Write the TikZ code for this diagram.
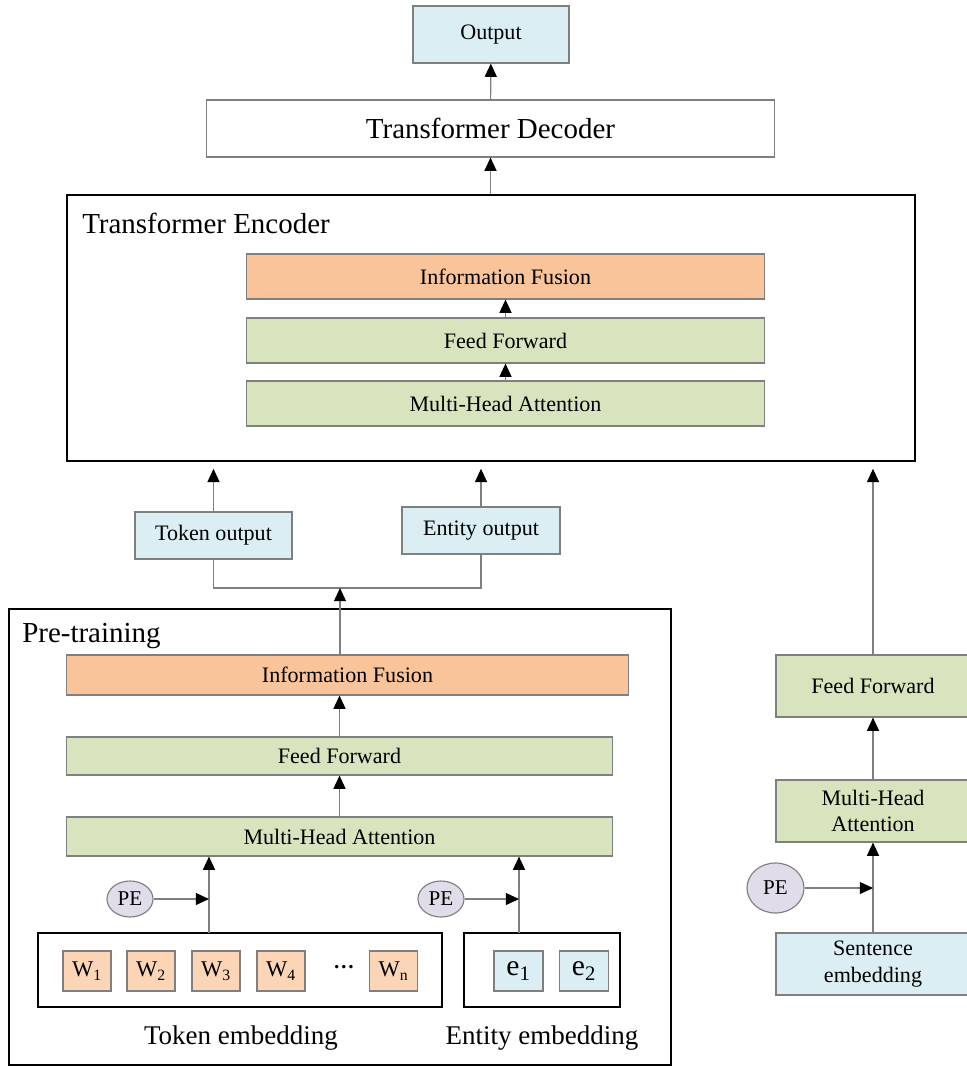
\documentclass[tikz,border=0pt]{standalone}
\usepackage{fontspec}
\setmainfont{Liberation Serif}
\usetikzlibrary{arrows.meta, shapes.geometric}

\definecolor{fusion}{HTML}{F9C499}
\definecolor{layer}{HTML}{D7E4BD}
\definecolor{io}{HTML}{DBEEF4}
\definecolor{word}{HTML}{FBD5B5}
\definecolor{pecol}{HTML}{E0DCEA}
\definecolor{edge}{HTML}{7F7F7F}

\begin{document}
\begin{tikzpicture}[x=0.025cm, y=-0.025cm,
    box/.style={draw=edge, line width=0.8pt, minimum height=1.125cm, inner sep=0pt, align=center, font=\fontsize{15.7}{19}\selectfont},
    frame/.style={draw=black, line width=1.4pt, inner sep=0pt},
    big/.style={inner sep=0pt, font=\fontsize{20.6}{24}\selectfont},
    wordbox/.style={box, fill=word, minimum width=1.2cm, minimum height=1cm, font=\fontsize{16}{18}\selectfont},
    entbox/.style={box, fill=io, minimum width=1.225cm, minimum height=1cm, font=\fontsize{21}{22}\selectfont},
    pebox/.style={ellipse, draw=edge, line width=0.8pt, fill=pecol, inner sep=0pt, font=\fontsize{15}{18}\selectfont},
    arr/.style={draw=edge, line width=0.8pt, -{Triangle[color=black, fill=black, length=0.33cm, width=0.3cm]}},
    link/.style={draw=edge, line width=0.8pt}]
                \useasboundingbox (0,0) rectangle (967,1066);
                \clip (0,0) rectangle (967,1066);

                % decoder and output
                \node[box, fill=io, minimum width=3.9cm, minimum height=1.425cm] (out) at (491,34.5) {Output};
                \node[box, fill=white, minimum width=14.175cm, minimum height=1.425cm, font=\fontsize{20.6}{24}\selectfont] (dec) at (490.5,128.5) {Transformer Decoder};

                % encoder
                \node[frame, minimum width=21.2cm, minimum height=6.65cm] (enc) at (491,328) {};
                \node[big, anchor=west] (enclbl) at (82,223) {Transformer Encoder};
                \node[box, fill=fusion, minimum width=12.925cm] (eif) at (505.5,276.5) {Information Fusion};
                \node[box, fill=layer, minimum width=12.925cm] (eff) at (505.5,340.5) {Feed Forward};
                \node[box, fill=layer, minimum width=12.925cm] (emha) at (505.5,403.5) {Multi-Head Attention};

                % outputs of the pre-training
                \node[box, fill=io, minimum width=3.925cm, minimum height=1.175cm] (tokout) at (213.5,535.5) {Token output};
                \node[box, fill=io, minimum width=3.95cm, minimum height=1.175cm] (entout) at (481,530.5) {Entity output};
                \coordinate (join) at (340,588);

                % pre-training
                \node[frame, minimum width=16.55cm, minimum height=11.4cm] (pre) at (340,837) {};
                \node[big, anchor=west] (prelbl) at (22,636) {Pre-training};
                \node[box, fill=fusion, minimum width=14.025cm, minimum height=1cm] (pif) at (347.5,675) {Information Fusion};
                \node[box, fill=layer, minimum width=13.625cm, minimum height=0.95cm] (pff) at (339.5,756) {Feed Forward};
                \node[box, fill=layer, minimum width=13.625cm, minimum height=0.975cm] (pmha) at (339.5,836.5) {Multi-Head Attention};

                % embeddings
                \node[frame, minimum width=10.1cm, minimum height=1.85cm] (tokemb) at (240,970) {};
                \node[frame, minimum width=3.9cm, minimum height=1.85cm] (entemb) at (542,970) {};
                \foreach \x/\i in {87/1, 151/2, 216/3, 281/4, 393.5/n}
                    \node[wordbox] (w\i) at (\x,971) {W\textsubscript{\i}};
                \node[inner sep=0pt, font=\bfseries\fontsize{15}{18}\selectfont] (dots) at (344,967) {…};
                \node[entbox] (e1) at (518.5,971) {e\textsubscript{1}};
                \node[entbox] (e2) at (584,971) {e\textsubscript{2}};
                \node[big, font=\fontsize{19.2}{24}\selectfont] (toklbl) at (241,1038) {Token embedding};
                \node[big, font=\fontsize{19.2}{24}\selectfont] (entlbl) at (542,1038) {Entity embedding};
                \node[pebox, minimum width=1.15cm, minimum height=0.9cm] (pe1) at (130,899) {PE};
                \node[pebox, minimum width=1.15cm, minimum height=0.9cm] (pe2) at (441,899) {PE};
                \coordinate (tin) at (209,933);
                \coordinate (ein) at (519,933);

                % sentence branch
                \node[box, fill=layer, minimum width=4.85cm, minimum height=1.55cm] (sff) at (873,686) {Feed Forward};
                \node[box, fill=layer, minimum width=4.85cm, minimum height=1.55cm] (smha) at (873,811) {Multi-Head\\Attention};
                \node[box, fill=io, minimum width=4.85cm, minimum height=1.55cm] (sent) at (873,964) {Sentence\\embedding};
                \node[pebox, minimum width=1.425cm, minimum height=1.25cm] (pe3) at (775.5,888) {PE};

                % draw the connectors
                \draw[arr] (dec) -- (out);
                \draw[arr] (enc.north -| dec) -- (dec.south);
                \draw[arr] (emha) -- (eff);
                \draw[arr] (eff) -- (eif);
                \draw[arr, shorten >=0.17cm] (tokout.north) -- (tokout.north |- enc.south);
                \draw[arr, shorten >=0.17cm] (entout.north) -- (entout.north |- enc.south);
                \draw[arr, shorten >=0.17cm] (sff.north) -- (sff.north |- enc.south);
                \draw[link] (tokout.south) |- (join) -| (entout.south);
                \draw[arr] (join |- pif.north) -- (join);
                \draw[arr] (pff.north) -- (pff.north |- pif.south);
                \draw[arr] (pmha) -- (pff);
                \draw[arr] (tin) -- (tin |- pmha.south);
                \draw[arr] (pe1) -- (pe1 -| tin);
                \draw[arr] (ein) -- (ein |- pmha.south);
                \draw[arr] (pe2) -- (pe2 -| ein);
                \draw[arr] (sent) -- (smha);
                \draw[arr] (smha) -- (sff);
                \draw[arr] (pe3) -- (pe3 -| sent);

            \end{tikzpicture}
\end{document}
